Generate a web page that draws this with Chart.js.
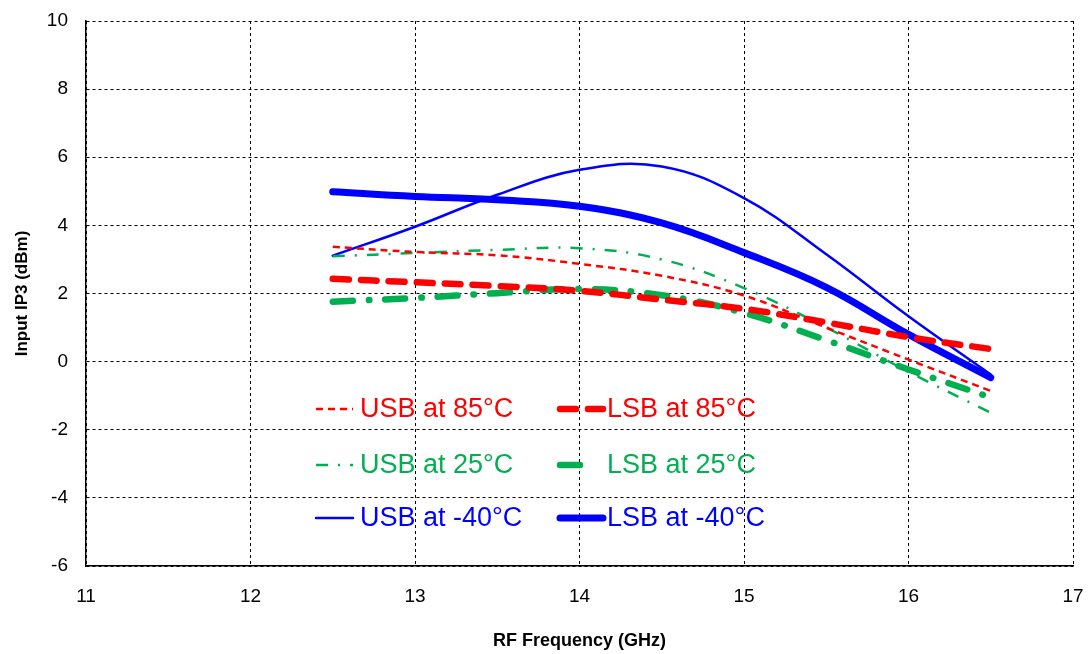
<!DOCTYPE html>
<html lang="en">
<head>
<meta charset="UTF-8">
<title>Input IP3 vs RF Frequency</title>
<script src="https://cdn.jsdelivr.net/npm/chart.js"></script>
<style>
    body { margin: 0; background: #fff; }
    #wrap { width: 1092px; height: 654px; }
</style>
</head>
<body>
<div id="wrap"><canvas id="ip3Chart" width="1092" height="654"></canvas></div>
<script>
    // RF frequency (GHz)
    const freq = [12.5, 13, 13.5, 14, 14.5, 15, 15.5, 16, 16.5];

    // Input IP3 (dBm)
    const usb85  = [3.37, 3.22, 3.12, 2.87, 2.52, 1.94, 1.00, 0.06, -0.86];
    const lsb85  = [2.43, 2.33, 2.22, 2.08, 1.82, 1.55, 1.15, 0.72, 0.37];
    const usb25  = [3.09, 3.19, 3.28, 3.33, 3.00, 2.16, 1.00, -0.30, -1.50];
    const lsb25  = [1.76, 1.87, 2.01, 2.13, 1.95, 1.43, 0.63, -0.23, -1.05];
    const usbM40 = [3.11, 3.96, 4.90, 5.63, 5.73, 4.80, 3.15, 1.33, -0.38];
    const lsbM40 = [4.99, 4.85, 4.75, 4.56, 4.07, 3.20, 2.18, 0.80, -0.47];

    const labels = ['USB at 85°C', 'LSB at 85°C', 'USB at 25°C', 'LSB at 25°C', 'USB at -40°C', 'LSB at -40°C'];

    const RED = '#ff0000', GREEN = '#00b050', BLUE = '#0000ff';
    const FONT = 'Arial, "Liberation Sans", sans-serif';

    function pts(ys) {
        return freq.map((x, i) => ({ x: x, y: ys[i] }));
    }

    function series(label, ys, color, width, dash, cap) {
        return {
            label: label,
            data: pts(ys),
            borderColor: color,
            backgroundColor: color,
            borderWidth: width,
            borderDash: dash,
            borderCapStyle: cap,
            pointRadius: 0,
            tension: 0.4,
            fill: false
        };
    }

    // legend drawn inside the plot, two columns x three rows
    const legendInside = {
        id: 'legendInside',
        afterDatasetsDraw(chart) {
            const ctx = chart.ctx;
            const cols = [{ x0: 316, x1: 353, tx: 360 }, { x0: 560, x1: 603, tx: 607 }];
            const rows = [409, 465, 518];
            ctx.save();
            chart.data.datasets.forEach((ds, i) => {
                const c = cols[i % 2];
                const y = rows[Math.floor(i / 2)];
                // the LSB 25 sample is a single short dash in the original
                const x1 = i === 3 ? 584 : c.x1;
                ctx.strokeStyle = ds.borderColor;
                ctx.lineWidth = ds.borderWidth;
                ctx.lineCap = ds.borderCapStyle;
                ctx.setLineDash(ds.borderDash);
                ctx.beginPath();
                ctx.moveTo(c.x0, y);
                ctx.lineTo(x1, y);
                ctx.stroke();
                ctx.setLineDash([]);
                ctx.fillStyle = ds.borderColor;
                ctx.font = '27px ' + FONT;
                ctx.textBaseline = 'middle';
                ctx.textAlign = 'left';
                ctx.fillText(ds.label, c.tx, y + 1);
            });
            ctx.restore();
        }
    };

    const ctx = document.getElementById('ip3Chart').getContext('2d');
    new Chart(ctx, {
        type: 'line',
        data: {
            datasets: [
                series(labels[0], usb85, RED, 2.5, [7, 5], 'butt'),
                series(labels[1], lsb85, RED, 6.5, [16, 12], 'round'),
                series(labels[2], usb25, GREEN, 2.5, [12, 10, 2, 10], 'butt'),
                series(labels[3], lsb25, GREEN, 6.5, [20, 16, 0.5, 16], 'round'),
                series(labels[4], usbM40, BLUE, 2.5, [], 'round'),
                series(labels[5], lsbM40, BLUE, 7, [], 'round')
            ]
        },
        options: {
            responsive: false,
            animation: false,
            layout: { padding: { top: 21, right: 19, left: 0, bottom: 0 } },
            plugins: {
                legend: { display: false },
                tooltip: { enabled: false }
            },
            scales: {
                x: {
                    type: 'linear',
                    min: 11,
                    max: 17,
                    afterFit(s) { s.height = 88; },
                    ticks: {
                        stepSize: 1,
                        padding: 5,
                        color: '#000',
                        font: { family: FONT, size: 19 }
                    },
                    grid: {
                        color: '#000',
                        lineWidth: 1,
                        drawTicks: true,
                        tickLength: 14,
                        tickColor: 'rgba(0,0,0,0)'
                    },
                    border: { display: true, color: '#000', width: 1.5, dash: [3, 3] },
                    title: {
                        display: true,
                        text: 'RF Frequency (GHz)',
                        color: '#000',
                        padding: { top: 0, bottom: 2 },
                        font: { family: FONT, size: 18, weight: 'bold' }
                    }
                },
                y: {
                    min: -6,
                    max: 10,
                    afterFit(s) { s.width = 86; },
                    ticks: {
                        stepSize: 2,
                        padding: 6,
                        color: '#000',
                        font: { family: FONT, size: 19 }
                    },
                    grid: {
                        color: '#000',
                        lineWidth: 1,
                        drawTicks: true,
                        tickLength: 12,
                        tickColor: 'rgba(0,0,0,0)'
                    },
                    border: { display: true, color: '#000', width: 1.5, dash: [3, 3] },
                    title: {
                        display: true,
                        text: 'Input IP3 (dBm)',
                        color: '#000',
                        padding: { top: 12, bottom: 0 },
                        font: { family: FONT, size: 17, weight: 'bold' }
                    }
                }
            }
        },
        plugins: [legendInside]
    });
</script>
</body>
</html>
